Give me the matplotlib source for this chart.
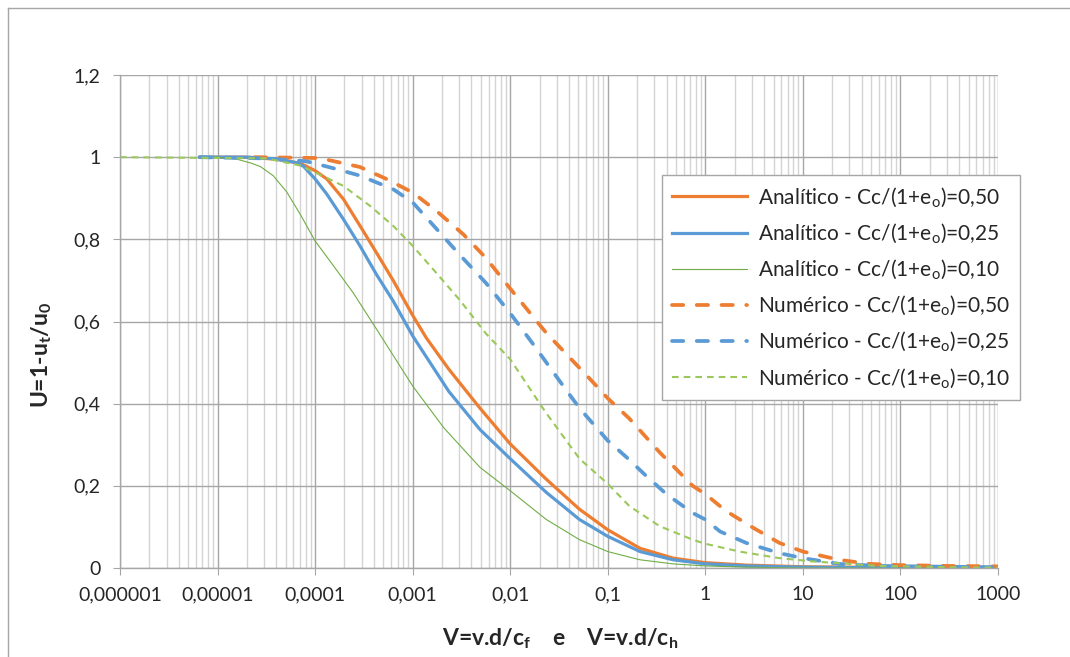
import numpy as np
import matplotlib.pyplot as plt
from matplotlib.lines import Line2D
from matplotlib.ticker import FixedLocator, LogLocator, NullFormatter

plt.rcParams['font.family'] = ['Lato', 'DejaVu Sans']
plt.rcParams['mathtext.fontset'] = 'custom'
plt.rcParams['mathtext.rm'] = 'Lato'
plt.rcParams['mathtext.bf'] = 'Lato:bold'
plt.rcParams['mathtext.it'] = 'Lato:italic'

# curvas guardadas como log10(V) e U
# Solução analítica
lv_a50 = [-5.18, -4.7, -4.4, -4.15, -4.0, -3.88, -3.71, -3.54, -3.37, -3.2, -3.0,
          -2.86, -2.63, -2.31, -2.0, -1.63, -1.29, -1.0, -0.67, -0.33, 0.0, 0.42,
          1.0, 2.0, 3.0]
u_a50 = [1.0, 1.0, 0.995, 0.985, 0.967, 0.947, 0.898, 0.833, 0.767, 0.70, 0.615,
         0.56, 0.484, 0.389, 0.302, 0.216, 0.143, 0.093, 0.048, 0.024, 0.013, 0.007,
         0.003, 0.001, 0.0]

lv_a25 = [-5.18, -4.7, -4.4, -4.2, -4.12, -4.0, -3.88, -3.71, -3.54, -3.37, -3.2,
          -3.0, -2.63, -2.31, -2.0, -1.63, -1.29, -1.0, -0.67, -0.33, 0.0, 0.42,
          1.0, 2.0, 3.0]
u_a25 = [1.0, 1.0, 0.996, 0.987, 0.978, 0.947, 0.91, 0.849, 0.784, 0.714, 0.65,
         0.565, 0.43, 0.337, 0.266, 0.184, 0.118, 0.077, 0.040, 0.020, 0.010, 0.005,
         0.002, 0.0, 0.0]

lv_a10 = [-5.18, -5.0, -4.8, -4.65, -4.56, -4.43, -4.29, -4.15, -4.0, -3.81, -3.61,
          -3.34, -3.0, -2.68, -2.31, -2.0, -1.63, -1.29, -1.0, -0.67, -0.33, 0.0,
          0.42, 1.0, 3.0]
u_a10 = [1.0, 1.0, 0.995, 0.985, 0.977, 0.955, 0.915, 0.86, 0.796, 0.735, 0.67,
         0.57, 0.443, 0.341, 0.245, 0.188, 0.118, 0.069, 0.040, 0.020, 0.010, 0.005,
         0.002, 0.0, 0.0]

# Solução numérica
lv_n50 = [-4.62, -4.0, -3.88, -3.54, -3.27, -3.0, -2.76, -2.48, -2.25, -2.0, -1.63,
          -1.19, -1.0, -0.78, -0.47, -0.13, 0.0, 0.21, 0.49, 0.76, 1.0, 1.37, 1.68,
          2.0, 2.5, 3.0]
u_n50 = [1.0, 0.998, 0.994, 0.976, 0.947, 0.914, 0.87, 0.812, 0.755, 0.68, 0.572,
         0.462, 0.413, 0.364, 0.282, 0.20, 0.18, 0.139, 0.098, 0.061, 0.040, 0.020, 0.010,
         0.007, 0.005, 0.004]

lv_n25 = [-5.18, -4.5, -4.09, -3.78, -3.54, -3.2, -3.0, -2.72, -2.52, -2.25, -2.0,
          -1.75, -1.49, -1.29, -1.0, -0.81, -0.61, -0.4, -0.13, 0.0, 0.15, 0.42, 0.76,
          1.0, 1.37, 1.78, 2.5, 3.0]
u_n25 = [1.0, 0.997, 0.99, 0.971, 0.955, 0.922, 0.89, 0.816, 0.763, 0.694, 0.62,
         0.54, 0.454, 0.389, 0.31, 0.27, 0.225, 0.18, 0.134, 0.118, 0.089, 0.061, 0.036,
         0.024, 0.010, 0.005, 0.003, 0.002]

lv_n10 = [-6.0, -4.5, -4.16, -4.0, -3.71, -3.44, -3.2, -3.0, -2.79, -2.52, -2.25,
          -2.0, -1.87, -1.64, -1.29, -1.0, -0.78, -0.47, -0.13, 0.0, 0.35, 0.76, 1.1,
          1.78, 2.5, 3.0]
u_n10 = [1.0, 0.997, 0.98, 0.963, 0.93, 0.882, 0.833, 0.784, 0.727, 0.653, 0.571,
         0.508, 0.462, 0.38, 0.266, 0.205, 0.151, 0.102, 0.069, 0.059, 0.040, 0.024, 0.016,
         0.005, 0.002, 0.001]

x_ticks = [1e-6, 1e-5, 1e-4, 1e-3, 1e-2, 0.1, 1, 10, 100, 1000]
x_labels = ['0,000001', '0,00001', '0,0001', '0,001', '0,01', '0,1', '1', '10', '100', '1000']
y_ticks = [0, 0.2, 0.4, 0.6, 0.8, 1.0, 1.2]
y_labels = ['0', '0,2', '0,4', '0,6', '0,8', '1', '1,2']

orange = '#ED7D31'
blue = '#5B9BD5'
green_dark = '#70AD47'
green_light = '#9BC85A'

fig = plt.figure(figsize=(10.7, 6.57), dpi=100)
ax = fig.add_axes([120 / 1070, 1 - 568 / 657, 878 / 1070, 493 / 657])

ax.plot(10 ** np.array(lv_a50), u_a50, color=orange, lw=2.3,
        label='Analítico - Cc/(1+e$_\\mathrm{o}$)=0,50')
ax.plot(10 ** np.array(lv_a25), u_a25, color=blue, lw=2.3,
        label='Analítico - Cc/(1+e$_\\mathrm{o}$)=0,25')
ax.plot(10 ** np.array(lv_a10), u_a10, color=green_dark, lw=0.8,
        label='Analítico - Cc/(1+e$_\\mathrm{o}$)=0,10')
ax.plot(10 ** np.array(lv_n50), u_n50, color=orange, lw=2.7, dashes=(3.0, 3.6),
        dash_capstyle='round', label='Numérico - Cc/(1+e$_\\mathrm{o}$)=0,50')
ax.plot(10 ** np.array(lv_n25), u_n25, color=blue, lw=2.7, dashes=(3.0, 3.6),
        dash_capstyle='round', label='Numérico - Cc/(1+e$_\\mathrm{o}$)=0,25')
ax.plot(10 ** np.array(lv_n10), u_n10, color=green_light, lw=1.5, dashes=(3.2, 2.4),
        label='Numérico - Cc/(1+e$_\\mathrm{o}$)=0,10')

ax.set_xscale('log')
ax.set_xlim(1e-6, 1000)
ax.set_ylim(0, 1.2)
ax.xaxis.set_major_locator(FixedLocator(x_ticks))
ax.set_xticklabels(x_labels)
ax.xaxis.set_minor_locator(LogLocator(base=10, subs=np.arange(2, 10), numticks=50))
ax.xaxis.set_minor_formatter(NullFormatter())
ax.set_yticks(y_ticks)
ax.set_yticklabels(y_labels)

ax.grid(True, which='major', color='#A6A6A6', lw=1.0)
ax.grid(True, which='minor', axis='x', color='#D4D4D4', lw=1.0)
ax.set_axisbelow(True)

for s in ['top', 'right']:
    ax.spines[s].set_visible(False)
for s in ['left', 'bottom']:
    ax.spines[s].set_color('#A6A6A6')
    ax.spines[s].set_linewidth(1.0)
ax.tick_params(which='major', length=5, color='#A6A6A6', labelsize=14,
               labelcolor='#262626')
ax.tick_params(axis='x', which='major', pad=8)
ax.tick_params(axis='y', which='major', pad=9)
ax.tick_params(which='minor', length=0)

# títulos dos eixos
fig.text(42 / 1070, 1 - 355 / 657, 'U=1-u$_\\mathbf{t}$/u$_\\mathbf{0}$', rotation=90,
         ha='center', va='center', fontsize=16.5, fontweight='bold', color='#262626')
fig.text(560 / 1070, 1 - 645 / 657, 'V=v.d/c$_\\mathbf{f}$    e    V=v.d/c$_\\mathbf{h}$',
         ha='center', va='baseline', fontsize=16.5, fontweight='bold', color='#262626')

leg = ax.legend(loc='upper right', bbox_to_anchor=(1020 / 1070, 1 - 175 / 657),
                bbox_transform=fig.transFigure, fontsize=15, frameon=True,
                fancybox=False, handlelength=3.6, handletextpad=0.5,
                labelspacing=0.6, borderpad=0.5, borderaxespad=0)
leg.get_frame().set_edgecolor('#A6A6A6')
leg.get_frame().set_linewidth(1.0)
leg.get_frame().set_alpha(1.0)
for t in leg.get_texts():
    t.set_color('#262626')

# moldura externa do gráfico
fig.add_artist(Line2D([8 / 1070, 1], [1 - 8 / 657, 1 - 8 / 657], transform=fig.transFigure,
                      color='#A6A6A6', lw=1.0))
fig.add_artist(Line2D([8 / 1070, 8 / 1070], [0, 1 - 8 / 657], transform=fig.transFigure,
                      color='#A6A6A6', lw=1.0))

fig.savefig('out.png', dpi=100)
